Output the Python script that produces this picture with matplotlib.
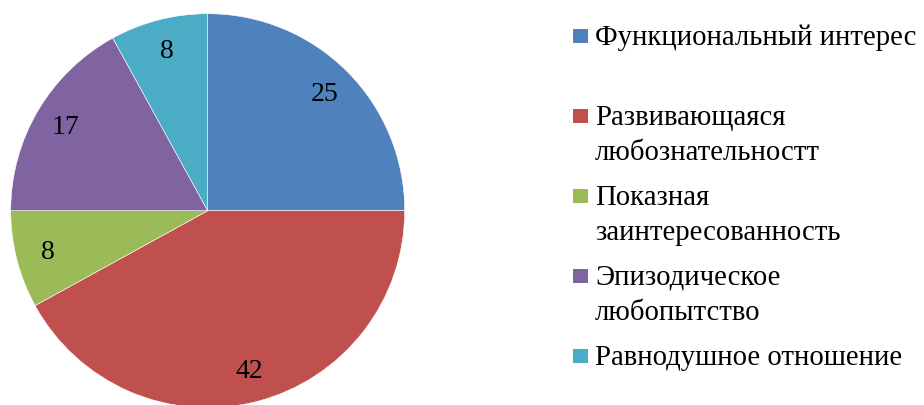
import matplotlib.pyplot as plt
from matplotlib.patches import Rectangle

labels = ['Функциональный интерес',
          'Развивающаяся\nлюбознательностт',
          'Показная\nзаинтересованность',
          'Эпизодическое\nлюбопытство',
          'Равнодушное отношение']
values = [25, 42, 8, 17, 8]
colors = ['#4F81BD', '#C0504D', '#9BBB59', '#8064A2', '#4BACC6']

plt.rcParams['font.family'] = ['Liberation Serif', 'DejaVu Serif']

W, H = 924, 406
fig = plt.figure(figsize=(W / 100, H / 100), dpi=100)

# pie axes: centre (207.7, 211.7) px from top-left, radius 197 px
cx, cy, r = 207.7, 211.7, 197
ax = fig.add_axes([(cx - r) / W, (H - cy - r) / H, 2 * r / W, 2 * r / H])
total = sum(values)
wedges, texts, autotexts = ax.pie(
    values, colors=colors, startangle=90, counterclock=False, radius=1,
    autopct=lambda p: '%d' % round(p * total / 100), pctdistance=0.84,
    wedgeprops=dict(edgecolor='white', linewidth=0.4),
    textprops=dict(fontsize=20, color='black'))
ax.set_xlim(-1, 1)
ax.set_ylim(-1, 1)
ax.set_aspect('equal')
ax.axis('off')

# legend drawn by hand to match the wrapped layout
x_sq, x_txt = 572.5, 595
row_gap, line_gap = 80, 35
first_base = 45
for i, (lab, col) in enumerate(zip(labels, colors)):
    base = first_base + i * row_gap
    fig.patches.append(Rectangle((x_sq / W, (H - base + 1) / H), 15 / W, 14 / H,
                                 transform=fig.transFigure, facecolor=col,
                                 edgecolor='none'))
    for k, line in enumerate(lab.split('\n')):
        fig.text(x_txt / W, (H - base - k * line_gap) / H, line, fontsize=20.7,
                 ha='left', va='baseline', color='black')

fig.savefig('out.png', dpi=100)
